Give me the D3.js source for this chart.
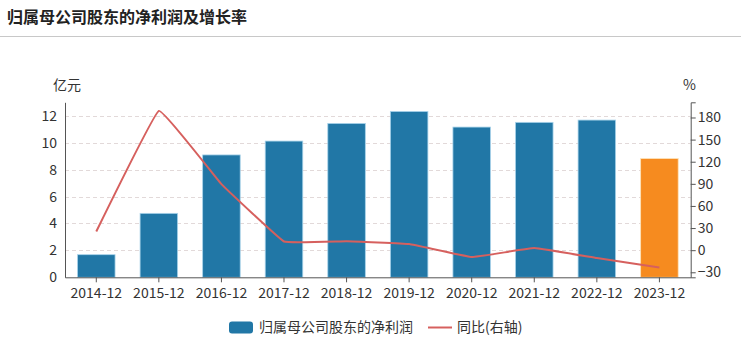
<!DOCTYPE html>
<html><head><meta charset="utf-8">
<script src="https://cdn.jsdelivr.net/npm/d3@7"></script>
<style>
html,body{margin:0;padding:0;background:#fff;}
svg text{font-family:"Noto Sans CJK SC","Noto Sans",sans-serif;}
</style></head>
<body><svg id="c" width="741" height="358"></svg>
<script>
const categories = ["2014-12","2015-12","2016-12","2017-12","2018-12","2019-12","2020-12","2021-12","2022-12","2023-12"];
const profit = [1.68, 4.75, 9.09, 10.12, 11.43, 12.32, 11.16, 11.51, 11.68, 8.82];
const yoy = [25.3, 188.9, 89.6, 11.8, 12.2, 8.3, -9.3, 2.8, -10.7, -23.4];
const leftTicks = [0, 2, 4, 6, 8, 10, 12];
const rightTicks = [-30, 0, 30, 60, 90, 120, 150, 180];
const title = "归属母公司股东的净利润及增长率";
const seriesNames = ["归属母公司股东的净利润", "同比(右轴)"];

const svg = d3.select("#c");
const L = 65, R = 690.7, T = 102.3, B = 277.3;

svg.append("text").attr("x", 7).attr("y", 23).attr("font-size", 16).attr("font-weight", "bold")
  .attr("fill", "#222").text(title);
svg.append("line").attr("x1", 0).attr("x2", 741).attr("y1", 36.5).attr("y2", 36.5)
  .attr("stroke", "#c8c8c8").attr("stroke-width", 1);

const x = d3.scaleBand().domain(categories).range([L, R]).paddingInner(0.4).paddingOuter(0.2);
const xc = d => x(d) + x.bandwidth() / 2;
const y = d3.scaleLinear().domain([0, 13]).range([B, T]);
const y2 = d3.scaleLinear().domain([-36.8, 200.6]).range([B, T]);

// grid
svg.append("g").selectAll("line").data(leftTicks.filter(d => d > 0)).join("line")
  .attr("x1", L).attr("x2", R).attr("y1", d => Math.round(y(d)) + 0.5).attr("y2", d => Math.round(y(d)) + 0.5)
  .attr("stroke", "#e2d9d9").attr("stroke-dasharray", "4,3");

// bars
svg.append("g").selectAll("rect").data(profit).join("rect")
  .attr("x", (d, i) => x(categories[i]))
  .attr("y", d => y(d))
  .attr("width", x.bandwidth())
  .attr("height", d => y(0) - y(d))
  .attr("fill", (d, i) => i === categories.length - 1 ? "#f68b1f" : "#2177a6")
  .attr("stroke", (d, i) => i === categories.length - 1 ? "#fde3b8" : "#a9d3ea")
  .attr("stroke-width", 0.8);

// line
const line = d3.line().x((d, i) => xc(categories[i])).y(d => y2(d)).curve(d3.curveCardinal.tension(0.8));
svg.append("path").datum(yoy).attr("d", line).attr("fill", "none")
  .attr("stroke", "#d6605e").attr("stroke-width", 2);

// left axis
const la = svg.append("g").attr("transform", `translate(${L},0)`)
  .call(d3.axisLeft(y).tickValues(leftTicks).tickSize(0).tickPadding(8));
la.select(".domain").attr("stroke", "#555");
la.selectAll("text").attr("font-size", 14).attr("fill", "#333").attr("font-family", "'Noto Sans',sans-serif");

// right axis
const ra = svg.append("g").attr("transform", `translate(${R},0)`)
  .call(d3.axisRight(y2).tickValues(rightTicks).tickSize(5).tickPadding(2));
ra.select(".domain").attr("stroke", "#555");
ra.selectAll("line").attr("stroke", "#555");
ra.selectAll("text").attr("font-size", 14).attr("fill", "#333").attr("font-family", "'Noto Sans',sans-serif");

// x axis
const xa = svg.append("g").attr("transform", `translate(0,${B})`)
  .call(d3.axisBottom(x).tickSize(5).tickPadding(6).tickSizeOuter(0));
xa.select(".domain").attr("stroke", "#555");
xa.selectAll("line").attr("stroke", "#555");
xa.selectAll("text").attr("font-size", 14).attr("fill", "#333").attr("font-family", "'Noto Sans',sans-serif");

// axis names
svg.append("text").attr("x", 53).attr("y", 90).attr("font-size", 14).attr("fill", "#333").text("亿元");
svg.append("text").attr("x", 683).attr("y", 90).attr("font-size", 14).attr("fill", "#333").text("%");

// legend
const lg = svg.append("g");
lg.append("rect").attr("x", 229).attr("y", 321.5).attr("width", 24).attr("height", 12).attr("rx", 3)
  .attr("fill", "#2177a6");
lg.append("text").attr("x", 259).attr("y", 332).attr("font-size", 14).attr("fill", "#333").text(seriesNames[0]);
lg.append("line").attr("x1", 428).attr("x2", 452).attr("y1", 327.5).attr("y2", 327.5)
  .attr("stroke", "#d6605e").attr("stroke-width", 2);
lg.append("text").attr("x", 457).attr("y", 332).attr("font-size", 14).attr("fill", "#333").text(seriesNames[1]);
</script></body></html>
